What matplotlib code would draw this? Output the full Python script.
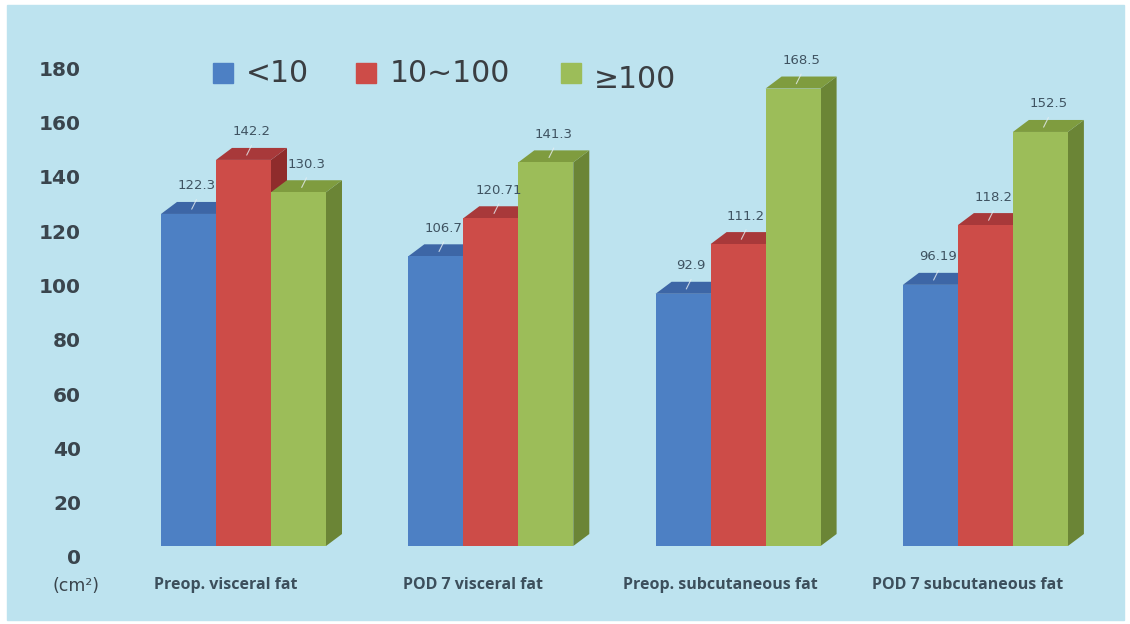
import matplotlib
matplotlib.use("Agg")
import matplotlib.pyplot as plt
import matplotlib.transforms as mtransforms
from matplotlib.patches import Polygon, Rectangle

# ---- data ----
categories = ["Preop. visceral fat", "POD 7 visceral fat",
              "Preop. subcutaneous fat", "POD 7 subcutaneous fat"]
series_names = ["<10", "10~100", "\u2265100"]
values_lt10 = [122.3, 106.7, 92.9, 96.19]
values_10_100 = [142.2, 120.71, 111.2, 118.2]
values_ge100 = [130.3, 141.3, 168.5, 152.5]
y_ticks = [0, 20, 40, 60, 80, 100, 120, 140, 160, 180]
unit_label = "(cm\u00b2)"

series = [values_lt10, values_10_100, values_ge100]

# ---- styles ----
front_colors = ["#4d80c4", "#cd4c48", "#9cbd59"]
top_colors = ["#3d66a6", "#a8393a", "#7f9c3f"]
side_colors = ["#2f5488", "#8f2c2c", "#6b8536"]
panel_color = "#bde3ef"
text_dark = "#3a454d"
label_color = "#3f5361"

W, H, DPI = 1130, 624, 100
fig = plt.figure(figsize=(W / DPI, H / DPI), dpi=DPI, facecolor="white")

# light-blue panel behind everything
fig.patches.append(Rectangle((7 / W, 1 - 620 / H), (1124 - 7) / W, (620 - 5) / H,
                             transform=fig.transFigure, color=panel_color, zorder=-5))

# axes: value 0 at y=546px, value 180 at y=57px; one category unit = 247.3px
base_px, top_px = 546, 57.3
group_px, first_center_px = 247.3, 243.5
ax = fig.add_axes([0, 1 - base_px / H, 1, (base_px - top_px) / H])
ax.set_zorder(2)
ax.set_xlim(-first_center_px / group_px, (W - first_center_px) / group_px)
ax.set_ylim(0, 180)
ax.axis("off")
ax.patch.set_visible(False)

bar_w = 55 / group_px
depth_dx = 16 / group_px                       # depth offset, data units
depth_dy = 12 * 180 / (base_px - top_px)

n_series = len(series)
for j, vals in enumerate(series):
    xs = [i + (j - n_series / 2) * bar_w for i in range(len(categories))]
    bars = ax.bar(xs, vals, width=bar_w, align="edge", color=front_colors[j],
                  linewidth=0)
    for i, (rect, v) in enumerate(zip(bars.patches, vals)):
        x0 = rect.get_x()
        zb = 10 + 3 * j
        rect.set_zorder(zb + 2)
        side = Polygon([(x0 + bar_w, 0), (x0 + bar_w + depth_dx, depth_dy),
                        (x0 + bar_w + depth_dx, v + depth_dy), (x0 + bar_w, v)],
                       closed=True, facecolor=side_colors[j], linewidth=0, zorder=zb)
        top = Polygon([(x0, v), (x0 + depth_dx, v + depth_dy),
                       (x0 + bar_w + depth_dx, v + depth_dy), (x0 + bar_w, v)],
                      closed=True, facecolor=top_colors[j], linewidth=0, zorder=zb + 1)
        ax.add_patch(side)
        ax.add_patch(top)
        # value label with a short leader onto the top face
        cx = x0 + bar_w / 2 + depth_dx / 2
        lab_tr = ax.transData + mtransforms.ScaledTranslation(0, 28 / DPI, fig.dpi_scale_trans)
        ax.text(cx, v, f"{v:g}", transform=lab_tr, ha="center", va="center",
                fontsize=9.5, color=label_color, zorder=40, family="DejaVu Sans",
                clip_on=False)
        ax.plot([cx, cx - 0.3 * depth_dx], [v + depth_dy * 1.2, v + depth_dy * 0.4],
                color="#e6eef2", lw=0.8, alpha=0.8, zorder=41, solid_capstyle="round",
                clip_on=False)

# y tick labels (sit slightly below their value level)
tick_tr = ax.get_yaxis_transform() + mtransforms.ScaledTranslation(0, -13 / DPI, fig.dpi_scale_trans)
for t in y_ticks:
    ax.text(81 / W, t, str(t), transform=tick_tr, ha="right", va="center",
            fontsize=14.5, fontweight="bold", color=text_dark, family="DejaVu Sans",
            clip_on=False)

fig.text(76 / W, 1 - 586 / H, unit_label, ha="center", va="center",
         fontsize=12.5, color=text_dark, family="DejaVu Sans")

# category labels
cat_tr = mtransforms.blended_transform_factory(ax.transData, fig.transFigure)
for i, c in enumerate(categories):
    ax.text(i - 18 / group_px, 1 - 585 / H, c, transform=cat_tr, ha="center",
            va="center", fontsize=11.5, fontweight="bold", color="#3c4f5c",
            family="Open Sans", clip_on=False)

# legend
legend_sq = [(213, 63), (356, 63), (561, 63)]
legend_tx = [(246, 73), (390, 73), (594, 79)]
for (sx, sy), (tx, ty), name, col in zip(legend_sq, legend_tx, series_names, front_colors):
    fig.patches.append(Rectangle((sx / W, 1 - (sy + 20) / H), 20 / W, 20 / H,
                                 transform=fig.transFigure, color=col, zorder=5))
    fig.text(tx / W, 1 - ty / H, name, ha="left", va="center", fontsize=21.5,
             color="#3a3e42", family="DejaVu Sans")

fig.savefig("out.png", dpi=DPI, facecolor="white")
